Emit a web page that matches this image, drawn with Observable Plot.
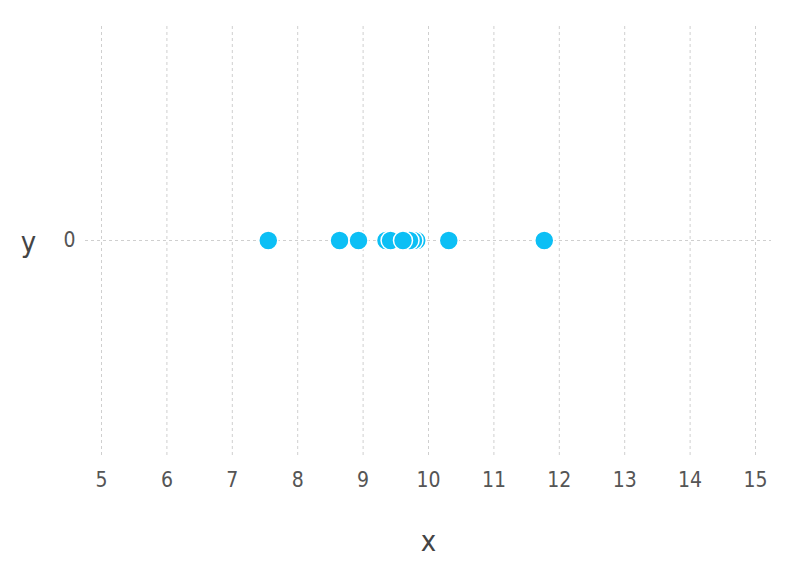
<!DOCTYPE html>
<html>
<head>
<meta charset="utf-8">
<script src="https://cdn.jsdelivr.net/npm/d3@7"></script>
<script src="https://cdn.jsdelivr.net/npm/@observablehq/plot@0.6"></script>
<style>
  body { margin: 0; background: #fff; }
  svg { font-family: "Liberation Sans Narrow", "DejaVu Sans Condensed", sans-serif; }
  svg g[aria-label="x-axis tick label"] text, svg g[aria-label="y-axis tick label"] text { font-size: 21px; }
</style>
</head>
<body>
<div id="chart"></div>
<script>
const xValues = [7.55, 8.64, 8.93, 9.35, 9.42, 9.82, 9.77, 9.71, 9.61, 10.31, 11.77];
const yValues = [0, 0, 0, 0, 0, 0, 0, 0, 0, 0, 0];
const xTicks = [5, 6, 7, 8, 9, 10, 11, 12, 13, 14, 15];
const yTicks = [0];
const xLabel = "x";
const yLabel = "y";

const data = xValues.map((x, i) => ({x, y: yValues[i]}));

const chart = Plot.plot({
  width: 800,
  height: 565,
  marginLeft: 101,
  marginRight: 45,
  marginTop: 25,
  marginBottom: 110,
  style: {fontFamily: "'Liberation Sans Narrow', 'DejaVu Sans Condensed', sans-serif", background: "white", fontSize: "21px"},
  x: {domain: [5, 15]},
  y: {domain: [-1, 1]},
  marks: [
    Plot.ruleX(xTicks, {x: d => d, y1: -1, y2: 1, stroke: "#cfcfcf", strokeWidth: 1, strokeDasharray: "3,3"}),
    Plot.ruleY(yTicks, {y: d => d, x1: 5, x2: 15, insetLeft: -16, insetRight: -16, stroke: "#cfcfcf", strokeWidth: 1, strokeDasharray: "3,3"}),
    Plot.axisX(xTicks, {tickSize: 0, tickPadding: 17, fontSize: 21, fill: "#555", label: null, tickFormat: d => String(d)}),
    Plot.axisY(yTicks, {tickSize: 0, tickPadding: 26, fontSize: 21, fill: "#555", label: null, tickFormat: d => String(d)}),
    Plot.text([xLabel], {frameAnchor: "bottom", dy: 95, fontSize: 29, fill: "#444", textAnchor: "middle"}),
    Plot.text([yLabel], {frameAnchor: "left", dx: -73, dy: 2, fontSize: 29, fill: "#444", textAnchor: "middle"}),
    Plot.dot(data, {x: "x", y: "y", r: 9.5, fill: "#0cbff5", stroke: "white", strokeWidth: 1.5})
  ]
});
document.getElementById("chart").appendChild(chart);
</script>
</body>
</html>
